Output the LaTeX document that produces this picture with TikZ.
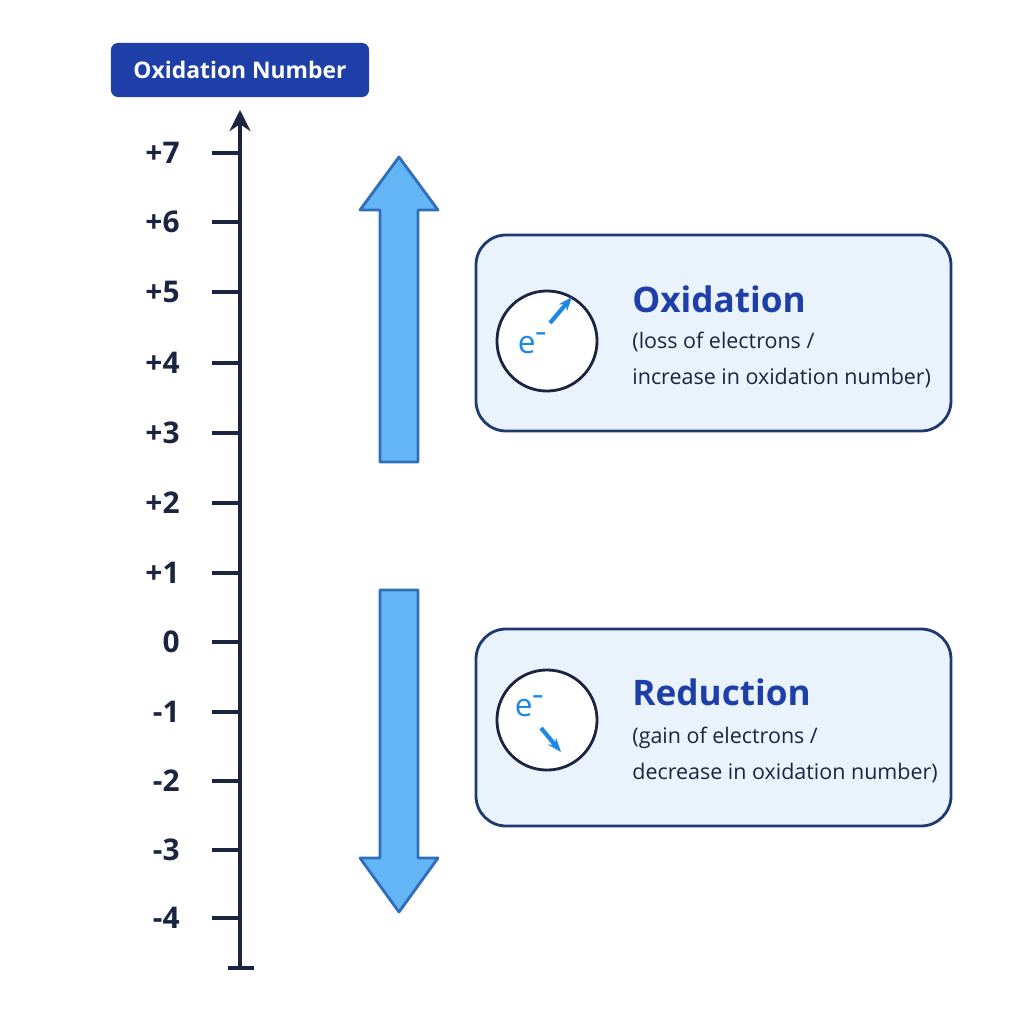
\documentclass[tikz,border=0pt]{standalone}
\usepackage{fontspec}
\setmainfont{Open Sans}
\usetikzlibrary{arrows.meta}
\definecolor{axisnavy}{HTML}{1B2440}
\definecolor{titleblue}{HTML}{1E3FA8}
\definecolor{arrowfill}{HTML}{64B5F6}
\definecolor{arrowedge}{HTML}{2F6FB8}
\definecolor{boxfill}{HTML}{EAF2FC}
\definecolor{boxedge}{HTML}{1E3A70}
\definecolor{ebright}{HTML}{1E88E5}

\begin{document}
\begin{tikzpicture}[x=0.01cm, y=-0.01cm, every node/.style={align=left},
  ticklabel/.style={anchor=east, font=\fontsize{8.5}{10}\selectfont\bfseries, text=axisnavy},
  bigarrow/.style={fill=arrowfill, draw=arrowedge, line width=0.8pt, line join=round},
  procbox/.style={fill=boxfill, draw=boxedge, line width=0.8pt, rounded corners=0.3cm},
  ecircle/.style={circle, draw=axisnavy, line width=0.8pt, fill=white, minimum size=1cm},
  procname/.style={anchor=west, font=\fontsize{10}{12}\selectfont\bfseries, text=titleblue},
  procnote/.style={anchor=west, font=\fontsize{6.1}{10.5}\selectfont, text=axisnavy},
  elabel/.style={font=\fontsize{9}{10}\selectfont, text=ebright}]
\useasboundingbox (0,0) rectangle (1024,1024);

% Title tag
\node[fill=titleblue, text=white, rounded corners=2pt, minimum width=2.58cm, minimum height=0.54cm,
  font=\fontsize{6.5}{8}\selectfont\bfseries] (title) at (240,70) {Oxidation Number};

% Axis
\coordinate (axbot) at (240,968);
\coordinate (axtop) at (240,110);
\draw[axisnavy, line width=1pt, -{Stealth[length=6pt,width=6pt]}] (axbot) -- (axtop);
\draw[axisnavy, line width=1pt] (228,968) -- (254,968);
\foreach \v/\y in {+7/153,+6/222,+5/292,+4/363,+3/433,+2/503,+1/573,0/642,-1/712,-2/781,-3/850,-4/918}{
  \draw[axisnavy, line width=1pt] (212,\y) -- (240,\y);
  \node[ticklabel] (lab\y) at (192,\y) {\v};
}

% Process arrows
\draw[bigarrow] (380,462) -- (380,210) -- (360,210) -- (399,157) -- (438,210) -- (418,210) -- (418,462) -- cycle;
\draw[bigarrow] (380,590) -- (380,858) -- (360,858) -- (399,912) -- (438,858) -- (418,858) -- (418,590) -- cycle;

% Oxidation
\draw[procbox] (476,235) rectangle (951,431);
\node[ecircle] (ox) at (547,341) {};
\node[elabel] (oxe) at (533,343) {e\textsuperscript{\bfseries –}};
\draw[ebright, line width=1.2pt, -{Stealth[length=4pt]}] (550,323) -- (572,297);
\node[procname] (oxname) at (620,299) {Oxidation};
\node[procnote] (oxnote) at (620,360) {(loss of electrons /\\increase in oxidation number)};

% Reduction
\draw[procbox] (476,629) rectangle (951,826);
\node[ecircle] (red) at (547,720) {};
\node[elabel] (rede) at (530,706) {e\textsuperscript{\bfseries –}};
\draw[ebright, line width=1.2pt, -{Stealth[length=4pt]}] (541,728) -- (561,752);
\node[procname] (redname) at (620,692) {Reduction};
\node[procnote] (rednote) at (620,755) {(gain of electrons /\\decrease in oxidation number)};
\end{tikzpicture}
\end{document}
